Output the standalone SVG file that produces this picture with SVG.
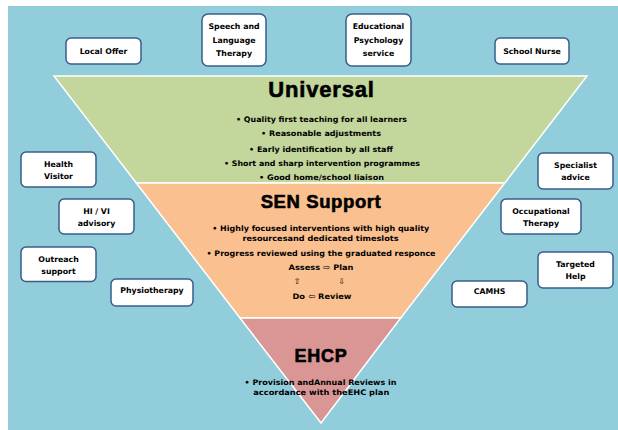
<svg xmlns="http://www.w3.org/2000/svg" width="618" height="430" viewBox="0 0 618 430">
<style>
.node rect{fill:#ffffff;stroke:#385D8A;stroke-width:1.5}
.node text{font-family:"DejaVu Sans",Verdana,sans-serif;font-weight:bold;font-size:7.8px;fill:#000;text-anchor:middle}
.band{stroke:#ffffff;stroke-width:1.5}
.title{font-family:"Liberation Sans",Arial,sans-serif;font-weight:bold;fill:#000;stroke:#000;stroke-width:0.6;text-anchor:middle}
.bul{font-family:"DejaVu Sans",Verdana,sans-serif;font-weight:bold;font-size:7.6px;fill:#000;text-anchor:middle}
.arr{font-family:"DejaVu Sans",sans-serif;font-size:8px;fill:#000;text-anchor:middle}
</style>
<rect x="8" y="6" width="610" height="424" fill="#92CDDC"/>
<g id="pyramid">
<polygon class="band" points="54,76 587,76 504.8,183 136.3,183" fill="#C3D69B"/>
<polygon class="band" points="136.3,183 504.8,183 400.7,318 240,318" fill="#FAC090"/>
<polygon class="band" points="240,318 400.7,318 321,423" fill="#D99694"/>
</g>
<g id="universal">
<text class="title" x="321.5" y="97" font-size="22" letter-spacing="0.8">Universal</text>
<text class="bul" x="321.5" y="122" textLength="171" lengthAdjust="spacingAndGlyphs">• Quality first teaching for all learners</text>
<text class="bul" x="321" y="136" textLength="120" lengthAdjust="spacingAndGlyphs">• Reasonable adjustments</text>
<text class="bul" x="321" y="151.5" textLength="144" lengthAdjust="spacingAndGlyphs">• Early identification by all staff</text>
<text class="bul" x="322" y="165.5" textLength="196" lengthAdjust="spacingAndGlyphs">• Short and sharp intervention programmes</text>
<text class="bul" x="321.5" y="180" textLength="125" lengthAdjust="spacingAndGlyphs">• Good  home/school liaison</text>
</g>
<g id="sen">
<text class="title" x="321" y="208" font-size="18.5" letter-spacing="0.6">SEN Support</text>
<text class="bul" x="320.7" y="230.5" textLength="217" lengthAdjust="spacingAndGlyphs">• Highly focused interventions  with high quality</text>
<text class="bul" x="320.5" y="240.5" textLength="156" lengthAdjust="spacingAndGlyphs">resourcesand dedicated timeslots</text>
<text class="bul" x="321" y="255.5" textLength="229" lengthAdjust="spacingAndGlyphs">• Progress reviewed using the graduated responce</text>
<text class="bul" x="321" y="270" textLength="65" lengthAdjust="spacingAndGlyphs">Assess <tspan font-weight="normal" font-size="8">⇨</tspan> Plan</text>
<text class="arr" x="297" y="283.5">⇧</text>
<text class="arr" x="341.5" y="283.5">⇩</text>
<text class="bul" x="322" y="298.5" textLength="59" lengthAdjust="spacingAndGlyphs">Do <tspan font-weight="normal" font-size="8">⇦</tspan> Review</text>
</g>
<g id="ehcp">
<text class="title" x="321" y="362" font-size="18" letter-spacing="0.7">EHCP</text>
<text class="bul" x="320.5" y="384.5" textLength="152" lengthAdjust="spacingAndGlyphs">• Provision andAnnual Reviews in</text>
<text class="bul" x="321.3" y="395" textLength="136" lengthAdjust="spacingAndGlyphs">accordance with theEHC plan</text>
</g>
<g id="local-offer" class="node"><rect x="66" y="38" width="75" height="26" rx="5"/><text x="103.5" y="54">Local Offer</text></g>
<g id="speech" class="node"><rect x="202" y="14" width="64" height="52" rx="6"/><text x="234" y="29">Speech and</text><text x="234" y="42.5">Language</text><text x="234" y="56">Therapy</text></g>
<g id="edpsych" class="node"><rect x="346" y="14" width="65" height="52" rx="6"/><text x="378.5" y="29">Educational</text><text x="378.5" y="42.5">Psychology</text><text x="378.5" y="56">service</text></g>
<g id="school-nurse" class="node"><rect x="495" y="38" width="74" height="26" rx="5"/><text x="532" y="54">School Nurse</text></g>
<g id="health-visitor" class="node"><rect x="21" y="152" width="75" height="35" rx="5"/><text x="58.5" y="166.5">Health</text><text x="58.5" y="178.5">Visitor</text></g>
<g id="hivi" class="node"><rect x="59" y="199" width="75" height="35" rx="5"/><text x="96.5" y="213.5">HI / VI</text><text x="96.5" y="225.5">advisory</text></g>
<g id="outreach" class="node"><rect x="21" y="247" width="75" height="34.5" rx="5"/><text x="58.5" y="261.5">Outreach</text><text x="58.5" y="273.5">support</text></g>
<g id="physio" class="node"><rect x="111" y="279" width="82" height="27" rx="5"/><text x="152" y="292.5">Physiotherapy</text></g>
<g id="specialist" class="node"><rect x="538" y="153" width="75" height="36" rx="5"/><text x="575.5" y="167.5">Specialist</text><text x="575.5" y="180">advice</text></g>
<g id="ot" class="node"><rect x="501" y="199" width="80" height="35" rx="5"/><text x="541" y="213.5">Occupational</text><text x="541" y="225.5">Therapy</text></g>
<g id="targeted" class="node"><rect x="538" y="252" width="75" height="36" rx="5"/><text x="575.5" y="266.5">Targeted</text><text x="575.5" y="279">Help</text></g>
<g id="camhs" class="node"><rect x="452" y="281" width="75" height="26" rx="5"/><text x="489.5" y="294">CAMHS</text></g>
<g id="connectors"/>
</svg>
